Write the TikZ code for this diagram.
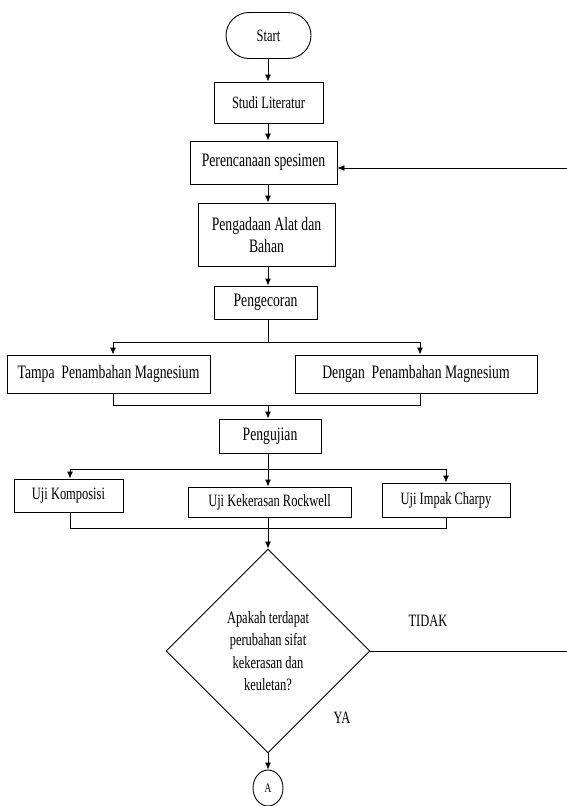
\documentclass[tikz,border=0pt]{standalone}
\usepackage{fontspec}
\setmainfont[FakeStretch=0.72]{Liberation Serif}
\usetikzlibrary{shapes.geometric,shapes.misc,arrows.meta}
\begin{document}
\begin{tikzpicture}[x=1pt,y=-1pt,
  box/.style={draw,line width=0.9pt,inner sep=0pt,align=center,font=\fontsize{19}{22}\selectfont},
  sbox/.style={box,font=\fontsize{17.3}{20}\selectfont},
  arr/.style={line width=0.9pt,-{Latex[length=7pt,width=6pt]}},
  ln/.style={line width=0.9pt},
  lbl/.style={font=\fontsize{17.3}{20}\selectfont}]
\useasboundingbox (0,0) rectangle (566,806);
\coordinate (col) at (268,0);
\node[sbox,rounded rectangle,minimum width=85pt,minimum height=46pt] (start) at (268.5,35.5) {Start};
\node[sbox,minimum width=109pt,minimum height=41pt] (studi) at (268.5,102.5) {Studi Literatur};
\node[box,minimum width=147pt,minimum height=43pt] (renc) at (263.5,162.5) {Perencanaan spesimen};
\node[box,minimum width=137pt,minimum height=63pt] (adaan) at (266.5,234.5) {Pengadaan Alat dan\\Bahan};
\node[box,minimum width=103pt,minimum height=33pt] (cor) at (265.5,302.5) {Pengecoran};
\node[box,minimum width=203pt,minimum height=38pt] (tampa) at (108.5,374) {Tampa\ \ Penambahan Magnesium};
\node[box,minimum width=242pt,minimum height=38pt] (dengan) at (416,374) {Dengan\ \ Penambahan Magnesium};
\node[box,minimum width=102pt,minimum height=34pt] (uji) at (270,436) {Pengujian};
\node[sbox,minimum width=109pt,minimum height=33pt] (komp) at (68.5,495.5) {Uji Komposisi};
\node[sbox,minimum width=163pt,minimum height=30pt] (rock) at (269.5,502) {Uji Kekerasan Rockwell};
\node[sbox,minimum width=128pt,minimum height=34pt] (charpy) at (446,500) {Uji Impak Charpy};
\node[draw,line width=0.9pt,diamond,minimum width=204pt,minimum height=204pt,inner sep=0pt,align=center,font=\fontsize{17.3}{22.5}\selectfont] (dia) at (268,651) {Apakah terdapat\\perubahan sifat\\kekerasan dan\\keuletan?};
\node[draw,line width=0.9pt,ellipse,minimum width=30pt,minimum height=36pt,inner sep=0pt,font=\fontsize{13}{14}\selectfont] (a) at (268,788) {A};
\node[lbl] (tidak) at (428,621) {TIDAK};
\node[lbl] (ya) at (342,718) {YA};
% main column
\draw[arr] (col |- start.south) -- (col |- studi.north);
\draw[arr] (col |- studi.south) -- (col |- renc.north);
\draw[arr] (col |- renc.south) -- (col |- adaan.north);
\draw[arr] (col |- adaan.south) -- (col |- cor.north);
% split after pengecoran
\coordinate (s1) at (268,342);
\coordinate (tl) at (113,342);
\coordinate (tr) at (420,342);
\draw[ln] (col |- cor.south) -- (s1);
\draw[arr] (s1) -- (tl) -- (tl |- tampa.north);
\draw[arr] (s1) -- (tr) -- (tr |- dengan.north);
% merge
\coordinate (m1) at (268,405);
\coordinate (ml) at (113,405);
\coordinate (mr) at (420,405);
\draw[ln] (ml |- tampa.south) -- (ml) -- (mr) -- (mr |- dengan.south);
\draw[arr] (m1) -- (col |- uji.north);
% split after pengujian
\coordinate (s2) at (268,469);
\coordinate (kl) at (70,469);
\coordinate (kr) at (446,469);
\draw[ln] (col |- uji.south) -- (s2);
\draw[arr] (s2) -- (kl) -- (kl |- komp.north);
\draw[arr] (s2) -- (kr) -- (kr |- charpy.north);
\draw[arr] (s2) -- (col |- rock.north);
% merge 2
\coordinate (n1) at (70,528);
\coordinate (n2) at (446,528);
\draw[ln] (kl |- komp.south) -- (n1) -- (n2) -- (n2 |- charpy.south);
\draw[arr] (col |- rock.south) -- (dia.north);
% decision
\draw[arr] (dia.south) -- (a.north);
\coordinate (fb1) at (567,651);
\coordinate (fb2) at (567,168);
\draw[arr] (dia.east) -- (fb1) -- (fb2) -- (renc.east |- fb2);
\end{tikzpicture}
\end{document}
